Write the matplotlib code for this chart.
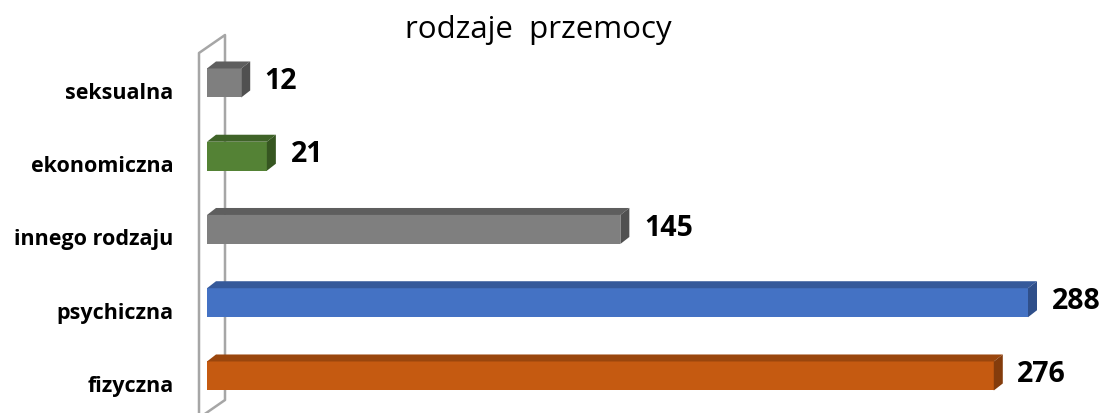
import matplotlib
matplotlib.use('Agg')
import matplotlib.pyplot as plt
from matplotlib.patches import Polygon
from matplotlib.lines import Line2D
from matplotlib.transforms import ScaledTranslation

plt.rcParams['font.family'] = ['Open Sans', 'DejaVu Sans']

categories = ['fizyczna', 'psychiczna', 'innego rodzaju', 'ekonomiczna', 'seksualna']
values = [276, 288, 145, 21, 12]
front_colors = ['#c55a11', '#4472c4', '#7f7f7f', '#548235', '#7f7f7f']
top_colors = ['#9a460d', '#35599a', '#5e5e5e', '#3f6328', '#5e5e5e']
side_colors = ['#843c0c', '#2f4f8a', '#505050', '#365621', '#505050']

W, H = 1101, 413
fig = plt.figure(figsize=(W / 100, H / 100), dpi=100)

px_per_unit = (1028 - 207) / 288
xmax = 300
ax_w = xmax * px_per_unit
ax_h = 5 * 73.25
ax = fig.add_axes([207 / W, 0.4 / H, ax_w / W, ax_h / H])
ax.set_xlim(0, xmax)
ax.set_ylim(-0.5, 4.5)

bar_h = 29 / 73.25
dx = 9 / px_per_unit
dy = 7 / 73.25

# wall (thin 3D panel on the left)
wall_kw = dict(color='#a6a6a6', lw=1.8, transform=fig.transFigure, zorder=0)
def fx(x):
    return x / W
def fy(y):
    return 1 - y / H
fig.add_artist(Line2D([fx(199), fx(199), fx(225), fx(225), fx(199)],
                      [fy(420), fy(53), fy(35), fy(400), fy(418)], **wall_kw))

for i, (v, fc, tc, sc) in enumerate(zip(values, front_colors, top_colors, side_colors)):
    y0 = i - bar_h / 2
    y1 = i + bar_h / 2
    ax.barh(i, v, height=bar_h, color=fc, zorder=3)
    ax.add_patch(Polygon([(0, y1), (dx, y1 + dy), (v + dx, y1 + dy), (v, y1)],
                         closed=True, facecolor=tc, edgecolor='none', zorder=3))
    ax.add_patch(Polygon([(v, y0), (v, y1), (v + dx, y1 + dy), (v + dx, y0 + dy)],
                         closed=True, facecolor=sc, edgecolor='none', zorder=3))
    ax.annotate(str(v), (v, i), xytext=(17, 1), textcoords='offset points',
                ha='left', va='center', fontsize=20.5, fontweight='bold')

ax.set_yticks(range(len(categories)))
ax.set_yticklabels(categories, fontsize=15.5, fontweight='bold')
ax.tick_params(axis='y', length=0, pad=24)
ax.set_xticks([])
shift = ScaledTranslation(0, -0.08, fig.dpi_scale_trans)
for lab in ax.get_yticklabels():
    lab.set_transform(lab.get_transform() + shift)
for s in ax.spines.values():
    s.set_visible(False)
ax.patch.set_visible(False)

fig.text(538 / W, 1 - 30 / H, 'rodzaje  przemocy', ha='center', va='center', fontsize=22.5)

fig.savefig('out.png', dpi=100)
